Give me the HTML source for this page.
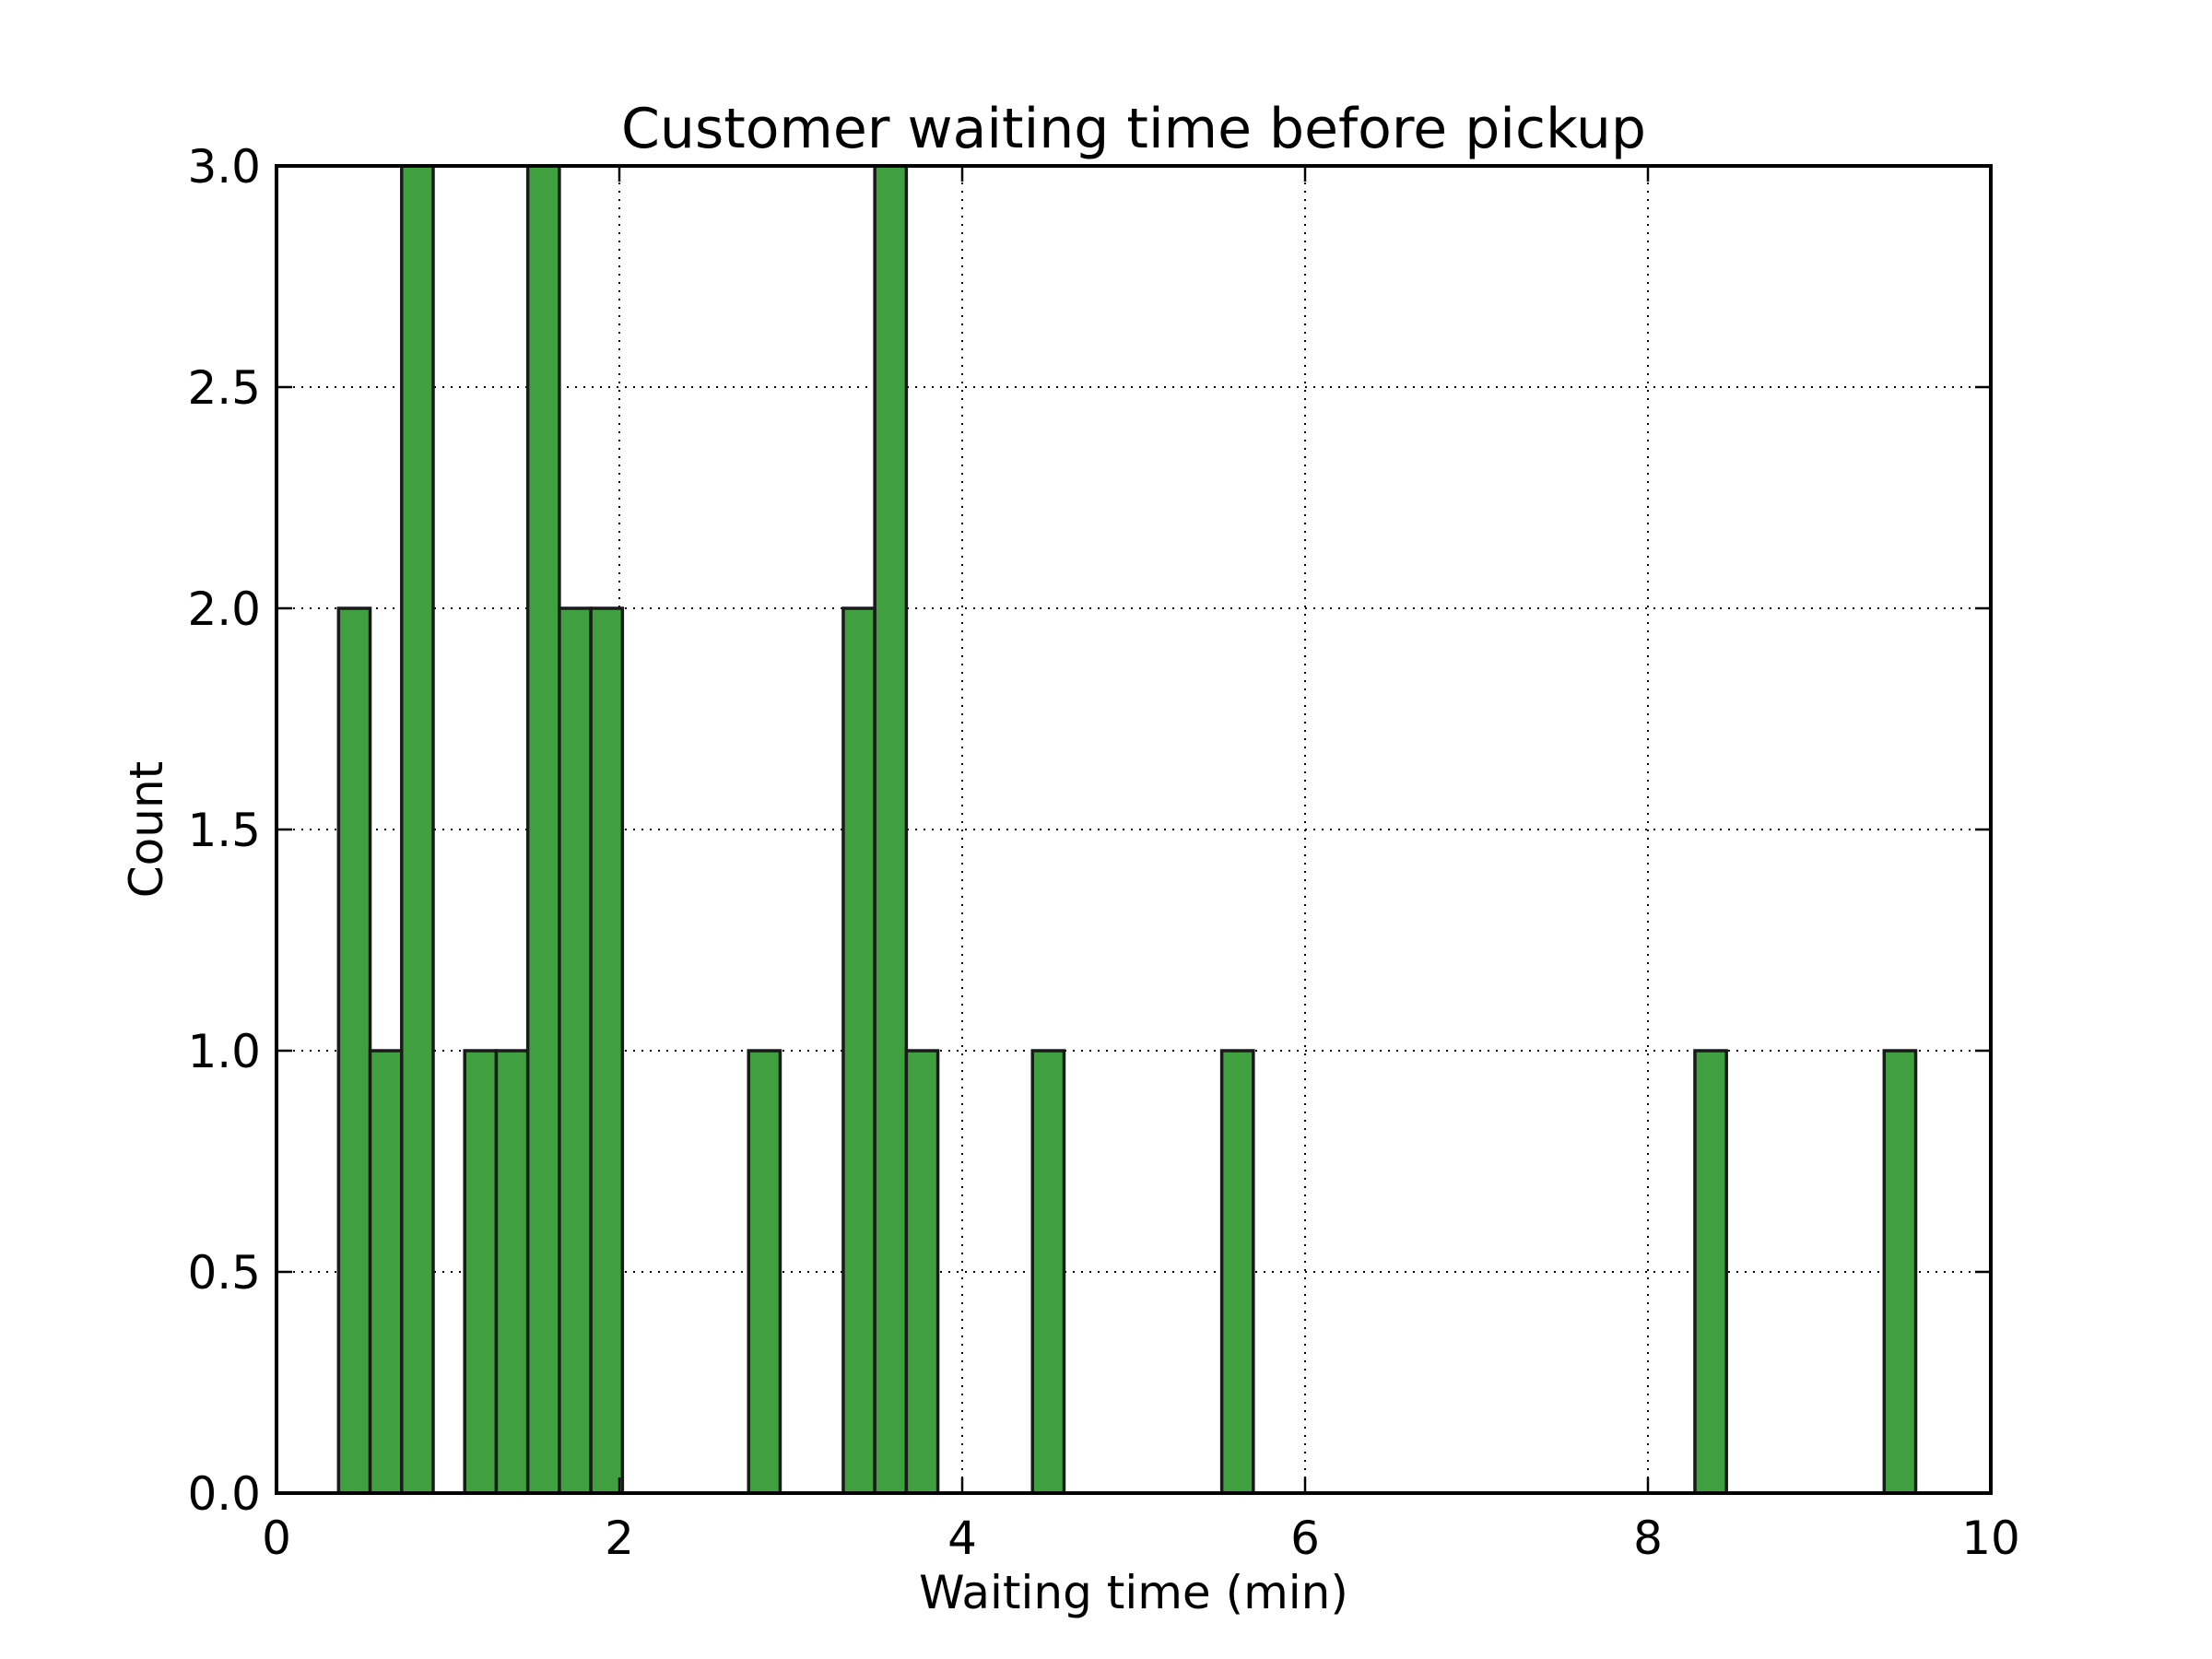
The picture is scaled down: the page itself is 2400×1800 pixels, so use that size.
<!DOCTYPE html>
<html><head><meta charset="utf-8"><style>
html,body{margin:0;padding:0;background:#fff;}
svg{display:block;font-family:"DejaVu Sans","Liberation Sans",sans-serif;}
</style></head><body>
<svg id="chart" width="2400" height="1800" viewBox="0 0 2400 1800" xmlns="http://www.w3.org/2000/svg">
<rect x="0" y="0" width="2400" height="1800" fill="#fff"/>
<g id="grid"></g>
<g id="bars"></g>
<g id="axes"></g>
</svg>
<script>
const binMin = 0.362;
const binMax = 9.562;
const counts = [2,1,3,0,1,1,3,2,2,0, 0,0,0,1,0,0,2,3,1,0, 0,0,1,0,0,0,0,0,1,0, 0,0,0,0,0,0,0,0,0,0, 0,0,0,1,0,0,0,0,0,1];
const xTicks = [0,2,4,6,8,10];
const xTickLabels = ["0","2","4","6","8","10"];
const yTicks = [0,0.5,1,1.5,2,2.5,3];
const yTickLabels = ["0.0","0.5","1.0","1.5","2.0","2.5","3.0"];

const L=300,R=2160,T=180,B=1620;
const xMin=0,xMax=10,yMin=0,yMax=3;
const X=v=>L+(v-xMin)/(xMax-xMin)*(R-L);
const Y=v=>B-(v-yMin)/(yMax-yMin)*(B-T);
const NS="http://www.w3.org/2000/svg";
function mk(tag,attrs,parent){const e=document.createElementNS(NS,tag);for(const k in attrs)e.setAttribute(k,attrs[k]);parent.appendChild(e);return e;}
const grid=document.getElementById('grid'),bars=document.getElementById('bars'),axes=document.getElementById('axes');

xTicks.forEach((t,i)=>{
  const g=mk('line',{x1:X(t),x2:X(t),y1:T,y2:B,stroke:'#000','stroke-width':2,'stroke-dasharray':'2,7'},grid);
  
  
});
yTicks.forEach((t,i)=>{
  const g=mk('line',{x1:L,x2:R,y1:Y(t),y2:Y(t),stroke:'#000','stroke-width':2,'stroke-dasharray':'2,7'},grid);
  
  
});

const bw=(binMax-binMin)/counts.length;
counts.forEach((c,i)=>{
  if(c<=0) return;
  const x0=X(binMin+i*bw),x1=X(binMin+(i+1)*bw);
  const r=mk('rect',{x:x0,y:Y(c),width:x1-x0,height:Y(0)-Y(c),fill:'#40a040',stroke:'#1a1a1a','stroke-width':3.5},bars);
  
  
});

const frame=mk('rect',{x:L,y:T,width:R-L,height:B-T,fill:'none',stroke:'#000','stroke-width':4},axes);



xTicks.forEach((t,i)=>{
  mk('line',{x1:X(t),x2:X(t),y1:B,y2:B-17,stroke:'#000','stroke-width':2.5},axes);
  mk('line',{x1:X(t),x2:X(t),y1:T,y2:T+17,stroke:'#000','stroke-width':2.5},axes);
  const tx=mk('text',{x:X(t),y:1686,'text-anchor':'middle','font-size':50},axes);
  tx.textContent=xTickLabels[i];
  
  
});
yTicks.forEach((t,i)=>{
  mk('line',{x1:L,x2:L+17,y1:Y(t),y2:Y(t),stroke:'#000','stroke-width':2.5},axes);
  mk('line',{x1:R,x2:R-17,y1:Y(t),y2:Y(t),stroke:'#000','stroke-width':2.5},axes);
  const tx=mk('text',{x:283,y:Y(t)+18,'text-anchor':'end','font-size':50},axes);
  tx.textContent=yTickLabels[i];
  
  
});

const title=mk('text',{x:(L+R)/2,y:160,'text-anchor':'middle','font-size':60},axes);
title.textContent='Customer waiting time before pickup';


const xl=mk('text',{x:(L+R)/2,y:1745,'text-anchor':'middle','font-size':50},axes);
xl.textContent='Waiting time (min)';


const yl=mk('text',{x:0,y:0,'text-anchor':'middle','font-size':50,transform:'translate(176,'+((T+B)/2)+') rotate(-90)'},axes);
yl.textContent='Count';


</script>
</body></html>
